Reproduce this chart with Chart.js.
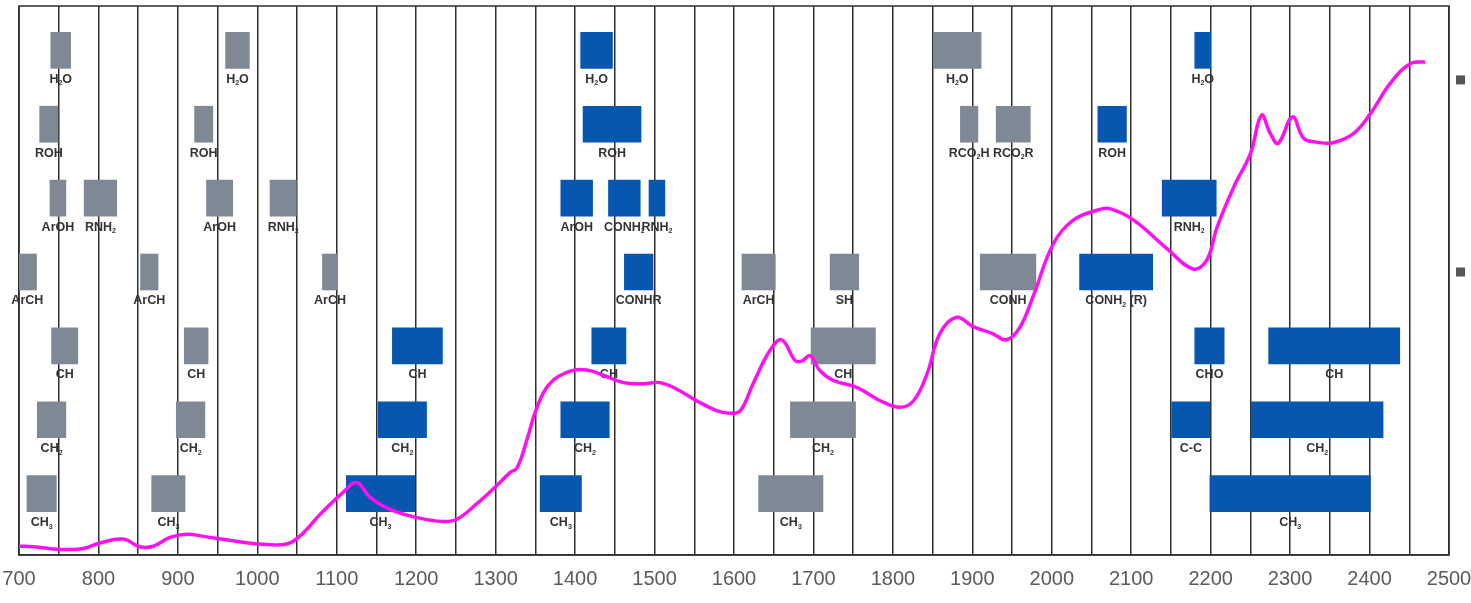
<!DOCTYPE html>
<html>
<head>
<meta charset="utf-8">
<style>
  html, body { margin: 0; padding: 0; background: #ffffff; }
  #wrap { width: 1471px; height: 603px; position: relative; }
</style>
<script src="https://cdn.jsdelivr.net/npm/chart.js@4/dist/chart.umd.min.js"></script>
</head>
<body>
<div id="wrap"><canvas id="nir"></canvas></div>
<script>
// Wavelength axis (nm): grid every 50, labels every 100
const gridValues = [700, 750, 800, 850, 900, 950, 1000, 1050, 1100, 1150, 1200, 1250, 1300, 1350,
  1400, 1450, 1500, 1550, 1600, 1650, 1700, 1750, 1800, 1850, 1900, 1950, 2000, 2050, 2100,
  2150, 2200, 2250, 2300, 2350, 2400, 2450, 2500];
const tickLabels = [700, 800, 900, 1000, 1100, 1200, 1300, 1400, 1500, 1600, 1700, 1800, 1900,
  2000, 2100, 2200, 2300, 2400, 2500];

// Absorption bands, grey group (row 1 = top row)
const grayLabels = ['H2O', 'H2O', 'H2O',
  'ROH', 'ROH', 'RCO2H', 'RCO2R',
  'ArOH', 'RNH2', 'ArOH', 'RNH2',
  'ArCH', 'ArCH', 'ArCH', 'ArCH', 'SH', 'CONH',
  'CH', 'CH', 'CH',
  'CH2', 'CH2', 'CH2',
  'CH3', 'CH3', 'CH3'];
const grayRows = [1, 1, 1,
  2, 2, 2, 2,
  3, 3, 3, 3,
  4, 4, 4, 4, 4, 4,
  5, 5, 5,
  6, 6, 6,
  7, 7, 7];
const grayFrom = [740, 960, 1851,
  726, 921, 1885, 1930,
  739, 782, 936, 1016,
  699, 853, 1082, 1610, 1721, 1910,
  741, 908, 1697,
  723, 898, 1671,
  710, 867, 1631];
const grayTo = [765, 990, 1911,
  749, 944, 1907, 1973,
  759, 823, 969, 1049,
  722, 875, 1101, 1652, 1757, 1980,
  774, 938, 1778,
  759, 934, 1753,
  747, 909, 1712];

// Absorption bands, blue group
const blueLabels = ['H2O', 'H2O',
  'ROH', 'ROH',
  'ArOH', 'CONH2', 'RNH2', 'RNH2',
  'CONHR', 'CONH2 (R)',
  'CH', 'CH', 'CHO', 'CH',
  'CH2', 'CH2', 'C-C', 'CH2',
  'CH3', 'CH3', 'CH3'];
const blueRows = [1, 1,
  2, 2,
  3, 3, 3, 3,
  4, 4,
  5, 5, 5, 5,
  6, 6, 6, 6,
  7, 7, 7];
const blueFrom = [1407, 2180,
  1410, 2058,
  1382, 1442, 1493, 2139,
  1462, 2035,
  1170, 1421, 2180, 2273,
  1152, 1382, 2151, 2251,
  1112, 1356, 2199];
const blueTo = [1447, 2200,
  1483, 2094,
  1422, 1482, 1513, 2207,
  1498, 2127,
  1233, 1464, 2217, 2438,
  1213, 1443, 2199, 2417,
  1198, 1408, 2401];

// Example NIR spectrum (relative absorbance)
const specWavelength = [700, 718, 752, 781, 802, 831, 852, 869, 890, 911, 936, 969, 1003, 1037,
  1054, 1079, 1108, 1125, 1142, 1167, 1201, 1234, 1251, 1276, 1301, 1318, 1327, 1339, 1352,
  1368, 1394, 1415, 1436, 1461, 1486, 1507, 1528, 1553, 1578, 1595, 1608, 1624, 1645, 1660,
  1677, 1685, 1696, 1708, 1725, 1755, 1784, 1809, 1826, 1843, 1859, 1880, 1901, 1926, 1943,
  1960, 1977, 2002, 2027, 2057, 2073, 2103, 2145, 2178, 2195, 2208, 2229, 2250, 2264, 2275,
  2285, 2303, 2317, 2334, 2354, 2380, 2401, 2426, 2451, 2470];
const specAbsorbance = [1.6, 1.5, 1.0, 1.2, 2.2, 2.9, 1.5, 1.6, 3.2, 3.8, 3.3, 2.6, 2.0, 2.0,
  3.5, 7.4, 11.4, 13.2, 10.5, 8.3, 6.8, 6.1, 6.5, 9.3, 12.6, 15.0, 15.9, 20.8, 26.9,
  31.2, 33.5, 33.7, 32.7, 31.4, 31.2, 31.4, 30.2, 28.1, 26.3, 25.8, 26.3, 31.2, 37.2, 39.2,
  35.4, 35.3, 36.3, 33.6, 31.8, 30.5, 28.1, 26.9, 28.1, 33.0, 40.3, 43.3, 41.6, 40.3, 39.2,
  41.5, 47.3, 56.7, 61.0, 62.8, 63.1, 61.0, 55.8, 52.1, 53.7, 59.7, 67.0, 73.1, 80.1, 76.8,
  75.0, 79.8, 75.9, 75.2, 75.1, 76.8, 80.4, 85.9, 89.5, 89.8];

const GRAY = '#7e8995';
const BLUE = '#0757b1';
const LINE = '#ff10f0';
const GRID = '#2e2e2e';

function bands(rows, from, to, labels) {
  return rows.map((r, i) => ({ y: r, x: [from[i], to[i]], label: labels[i] }));
}

// Band captions under each bar, digits drawn as subscripts
const bandCaptions = {
  id: 'bandCaptions',
  afterDatasetDraw(chart, args) {
    const ds = chart.data.datasets[args.index];
    if (ds.type !== 'bar') return;
    const ctx = chart.ctx;
    const big = 'bold 12.5px "Liberation Sans", Arial, sans-serif';
    const small = 'bold 7px "Liberation Sans", Arial, sans-serif';
    ctx.save();
    ctx.fillStyle = '#333333';
    ctx.textBaseline = 'middle';
    ctx.textAlign = 'left';
    args.meta.data.forEach((el, i) => {
      const text = ds.data[i].label;
      const parts = [];
      for (let k = 0; k < text.length; k++) {
        const ch = text[k];
        const sub = /[0-9]/.test(ch) && k > 0 && /[A-Za-z]/.test(text[k - 1]);
        parts.push({ ch, sub });
      }
      let w = 0;
      parts.forEach(p => { ctx.font = p.sub ? small : big; p.w = ctx.measureText(p.ch).width; w += p.w; });
      const p0 = el.getProps(['x', 'base', 'y', 'height'], true);
      const cx = (p0.x + p0.base) / 2;
      const cy = p0.y + p0.height / 2 + 11;
      let xx = cx - w / 2;
      parts.forEach(p => {
        ctx.font = p.sub ? small : big;
        ctx.fillText(p.ch, xx, p.sub ? cy + 4 : cy);
        xx += p.w;
      });
    });
    ctx.restore();
  }
};

// Plot frame and the two marker squares at the right edge
const frame = {
  id: 'frame',
  beforeDatasetsDraw(chart) {
    const { ctx, chartArea: a } = chart;
    ctx.save();
    ctx.strokeStyle = GRID;
    ctx.lineWidth = 1.5;
    ctx.strokeRect(a.left, a.top, a.right - a.left, a.bottom - a.top);
    ctx.restore();
  },
  afterDraw(chart) {
    const { ctx, chartArea: a } = chart;
    const yRow = chart.scales.yRow;
    ctx.save();
    ctx.fillStyle = '#555555';
    [1.4, 4.0].forEach(r => {
      const y = yRow.getPixelForValue(r);
      ctx.fillRect(a.right + 7, y - 4.5, 9, 9);
    });
    ctx.restore();
  }
};

new Chart(document.getElementById('nir'), {
  type: 'bar',
  data: {
    datasets: [
      {
        type: 'line',
        label: 'spectrum',
        data: specWavelength.map((w, i) => ({ x: w, y: specAbsorbance[i] })),
        xAxisID: 'x',
        yAxisID: 'yLine',
        borderColor: LINE,
        borderWidth: 3.5,
        pointRadius: 0,
        tension: 0.4,
        fill: false,
        order: 0
      },
      {
        type: 'bar',
        label: 'grey bands',
        indexAxis: 'y',
        data: bands(grayRows, grayFrom, grayTo, grayLabels),
        xAxisID: 'x',
        yAxisID: 'yRow',
        backgroundColor: GRAY,
        borderWidth: 0,
        barThickness: 36,
        grouped: false,
        order: 2
      },
      {
        type: 'bar',
        label: 'blue bands',
        indexAxis: 'y',
        data: bands(blueRows, blueFrom, blueTo, blueLabels),
        xAxisID: 'x',
        yAxisID: 'yRow',
        backgroundColor: BLUE,
        borderWidth: 0,
        barThickness: 36,
        grouped: false,
        order: 1
      }
    ]
  },
  options: {
    responsive: true,
    maintainAspectRatio: false,
    animation: false,
    layout: { padding: { left: 19, right: 22, top: 6, bottom: 0 } },
    plugins: {
      legend: { display: false },
      tooltip: { enabled: false }
    },
    scales: {
      x: {
        type: 'linear',
        position: 'bottom',
        offset: false,
        min: 700,
        max: 2500,
        afterBuildTicks(scale) {
          scale.ticks = gridValues.map(v => ({ value: v }));
        },
        afterFit(scale) {
          scale.paddingLeft = 0;
          scale.paddingRight = 0;
        },
        ticks: {
          autoSkip: false,
          maxRotation: 0,
          padding: 12,
          color: '#5a5a5a',
          font: { family: '"Liberation Sans", Arial, sans-serif', size: 20 },
          callback: v => (tickLabels.includes(v) ? String(v) : '')
        },
        grid: { color: GRID, lineWidth: 1.5, drawTicks: false, offset: false },
        border: { color: GRID, width: 1.5 }
      },
      yRow: {
        type: 'linear',
        axis: 'y',
        display: false,
        offset: false,
        reverse: true,
        min: 0.4,
        max: 7.83
      },
      yLine: {
        type: 'linear',
        axis: 'y',
        display: false,
        offset: false,
        min: 0,
        max: 100
      }
    }
  },
  plugins: [frame, bandCaptions]
});
</script>
</body>
</html>
